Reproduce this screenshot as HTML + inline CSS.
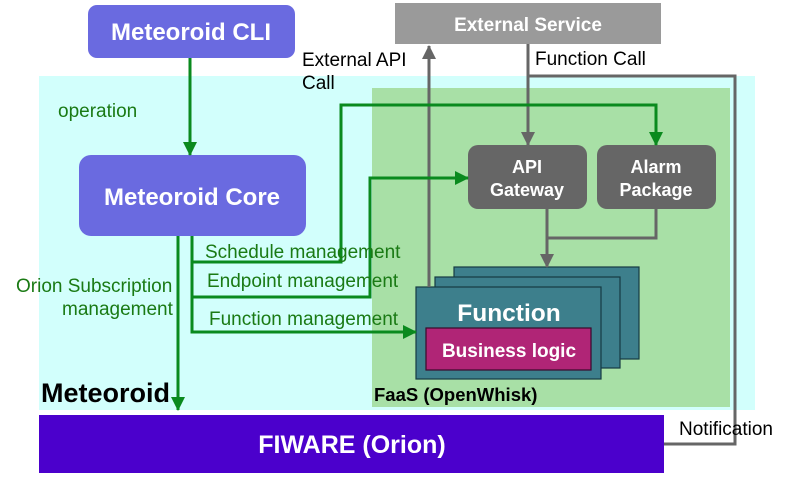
<!DOCTYPE html>
<html><head><style>
body{margin:0;width:789px;height:480px;background:#fff;overflow:hidden;font-family:"Liberation Sans",sans-serif}
</style></head><body>
<svg width="789" height="480" viewBox="0 0 789 480" xmlns="http://www.w3.org/2000/svg" font-family="Liberation Sans, sans-serif">
<defs>
<marker id="k" markerWidth="14" markerHeight="14" refX="13" refY="7" orient="auto" markerUnits="userSpaceOnUse"><path d="M0,0 L14,7 L0,14 z" fill="#666"/></marker>
<marker id="gg" markerWidth="14" markerHeight="14" refX="13" refY="7" orient="auto" markerUnits="userSpaceOnUse"><path d="M0,0 L14,7 L0,14 z" fill="#0a8a1e"/></marker>
</defs>
<rect x="39" y="76" width="716" height="334" fill="#d2fffc"/>
<rect x="372" y="88" width="358" height="319" fill="#a8e0a6"/>
<rect x="395" y="3" width="266" height="41" fill="#9a9a9a"/>
<text x="528" y="31" text-anchor="middle" fill="#fff" font-weight="bold" font-size="19">External Service</text>
<rect x="88" y="5" width="207" height="53" rx="9" fill="#6a6ae0"/>
<text x="191" y="40" text-anchor="middle" fill="#fff" font-weight="bold" font-size="24">Meteoroid CLI</text>
<rect x="79" y="155" width="227" height="81" rx="12" fill="#6a6ae0"/>
<text x="192" y="205" text-anchor="middle" fill="#fff" font-weight="bold" font-size="24">Meteoroid Core</text>
<rect x="468" y="145" width="119" height="64" rx="10" fill="#666"/>
<text x="527" y="173" text-anchor="middle" fill="#fff" font-weight="bold" font-size="18">API</text>
<text x="527" y="196" text-anchor="middle" fill="#fff" font-weight="bold" font-size="18">Gateway</text>
<rect x="597" y="145" width="119" height="64" rx="10" fill="#666"/>
<text x="656" y="173" text-anchor="middle" fill="#fff" font-weight="bold" font-size="18">Alarm</text>
<text x="656" y="196" text-anchor="middle" fill="#fff" font-weight="bold" font-size="18">Package</text>
<rect x="454" y="267" width="185" height="92" fill="#3d7f8c" stroke="#163a42" stroke-width="1.2"/>
<rect x="435" y="277" width="185" height="91" fill="#3d7f8c" stroke="#163a42" stroke-width="1.2"/>
<rect x="416" y="287" width="185" height="92" fill="#3d7f8c" stroke="#163a42" stroke-width="1.2"/>
<text x="509" y="321" text-anchor="middle" fill="#fff" font-weight="bold" font-size="24.5">Function</text>
<rect x="426" y="328" width="165" height="42" fill="#b02576" stroke="#3a0a2a" stroke-width="1.2"/>
<text x="509" y="357" text-anchor="middle" fill="#fff" font-weight="bold" font-size="19">Business logic</text>
<rect x="39" y="415" width="625" height="58" fill="#4b00cc"/>
<text x="352" y="453" text-anchor="middle" fill="#fff" font-weight="bold" font-size="25">FIWARE (Orion)</text>
<text x="41" y="402" font-weight="bold" font-size="27" fill="#000">Meteoroid</text>
<text x="374" y="401" font-weight="bold" font-size="18.5" fill="#000">FaaS (OpenWhisk)</text>
<g stroke="#666" stroke-width="3" fill="none">
<line x1="429" y1="287" x2="429" y2="46" marker-end="url(#k)"/>
<line x1="528" y1="44" x2="528" y2="145" marker-end="url(#k)"/>
<polyline points="528,76 735,76 735,444 664,444"/>
<line x1="547" y1="209" x2="547" y2="267" marker-end="url(#k)"/>
<polyline points="656,209 656,238 547,238"/>
</g>
<g stroke="#0a8a1e" stroke-width="3" fill="none">
<line x1="190" y1="58" x2="190" y2="155" marker-end="url(#gg)"/>
<line x1="178" y1="236" x2="178" y2="410" marker-end="url(#gg)"/>
<polyline points="192,236 192,332 416,332" marker-end="url(#gg)"/>
<polyline points="192,262 341,262 341,105 656,105 656,145" marker-end="url(#gg)"/>
<polyline points="192,297 370,297 370,178 468,178" marker-end="url(#gg)"/>
</g>
<g fill="#1a7a14" font-size="19">
<text x="58" y="117">operation</text>
<text x="16" y="292">Orion Subscription</text>
<text x="62" y="315">management</text>
<text x="205" y="258">Schedule management</text>
<text x="207" y="287">Endpoint management</text>
<text x="209" y="325">Function management</text>
</g>
<g fill="#000" font-size="19">
<text x="302" y="66">External API</text>
<text x="302" y="89">Call</text>
<text x="535" y="65">Function Call</text>
<text x="679" y="435">Notification</text>
</g>
</svg>
</body></html>
